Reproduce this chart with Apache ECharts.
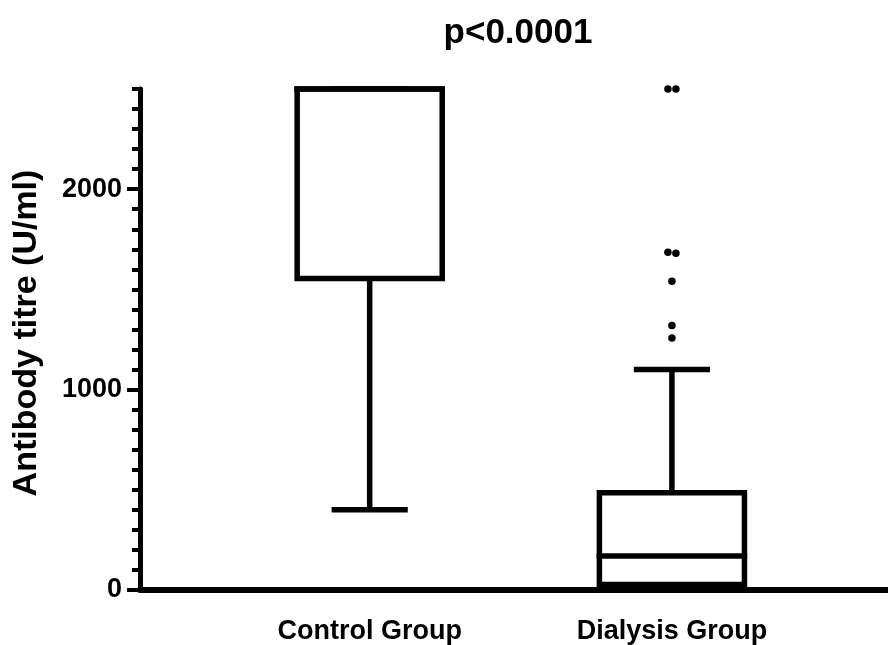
<!DOCTYPE html>
<html>
<head>
<meta charset="utf-8">
<script src="https://cdn.jsdelivr.net/npm/echarts@6/dist/echarts.min.js"></script>
<style>
html,body{margin:0;padding:0;background:#fff;}
#chart{width:888px;height:645px;}
</style>
</head>
<body>
<div id="chart"></div>
<script>
// ---- data ----
const categories = ['Control Group', 'Dialysis Group'];
const boxMin = [400, 0];
const boxQ1 = [1555, 27];
const boxMedian = [2500, 170];
const boxQ3 = [2500, 485];
const boxMax = [2500, 1100];
const dialysisOutliers = [2500, 2500, 1685, 1680, 1541, 1320, 1257];
const yMajorTicks = [0, 1000, 2000];
const titleText = 'p<0.0001';
const yAxisTitle = 'Antibody titre (U/ml)';

// ---- build ----
const FONT = '"Liberation Sans", Arial, Helvetica, sans-serif';
const boxData = categories.map((c, i) => [i + 1, boxMin[i], boxQ1[i], boxMedian[i], boxQ3[i], boxMax[i]]);

// spread near-identical outliers sideways (visual jitter only)
const outlierData = [];
for (let i = 0; i < dialysisOutliers.length; i++) {
  const v = dialysisOutliers[i];
  const prev = i > 0 ? dialysisOutliers[i - 1] : null;
  const next = i < dialysisOutliers.length - 1 ? dialysisOutliers[i + 1] : null;
  let off = 0;
  if (next !== null && Math.abs(next - v) < 15 && !(prev !== null && Math.abs(prev - v) < 15)) off = -4;
  else if (prev !== null && Math.abs(prev - v) < 15) off = 4;
  outlierData.push({ value: [2, v], symbolOffset: [off, 0] });
}

const LW = 5.5;
function renderBox(params, api) {
  const x = api.value(0);
  const vMin = api.value(1), q1 = api.value(2), med = api.value(3), q3 = api.value(4), vMax = api.value(5);
  const hw = api.size([0.24, 0])[0];
  const cw = api.size([0.126, 0])[0];
  const pMin = api.coord([x, vMin]), pQ1 = api.coord([x, q1]), pMed = api.coord([x, med]);
  const pQ3 = api.coord([x, q3]), pMax = api.coord([x, vMax]);
  const cx = pMin[0];
  const ls = { stroke: '#000', lineWidth: LW, lineCap: 'butt' };
  const children = [
    { type: 'line', shape: { x1: cx, y1: pMin[1], x2: cx, y2: pQ1[1] }, style: ls },
    { type: 'line', shape: { x1: cx, y1: pQ3[1], x2: cx, y2: pMax[1] }, style: ls },
    { type: 'line', shape: { x1: cx - cw, y1: pMin[1], x2: cx + cw, y2: pMin[1] }, style: ls },
    { type: 'line', shape: { x1: cx - cw, y1: pMax[1], x2: cx + cw, y2: pMax[1] }, style: ls },
    { type: 'rect', shape: { x: cx - hw, y: pQ3[1], width: 2 * hw, height: pQ1[1] - pQ3[1] },
      style: { fill: '#fff', stroke: '#000', lineWidth: LW } },
    { type: 'line', shape: { x1: cx - hw - LW / 2, y1: pMed[1], x2: cx + hw + LW / 2, y2: pMed[1] }, style: ls }
  ];
  return { type: 'group', children };
}

const chart = echarts.init(document.getElementById('chart'));
chart.setOption({
  animation: false,
  backgroundColor: '#fff',
  graphic: [
    { type: 'text', x: 518, y: 16, style: { text: titleText, font: 'bold 35px ' + FONT, fill: '#000', align: 'center', verticalAlign: 'top' } },
    { type: 'text', x: 27, y: 333, rotation: Math.PI / 2, style: { text: yAxisTitle, font: 'bold 34px ' + FONT, fill: '#000', align: 'center', verticalAlign: 'middle' } }
  ],
  grid: { left: 140, right: 0, top: 89, bottom: 52.5, containLabel: false },
  xAxis: {
    type: 'value', min: 0.24, max: 2.715,
    splitLine: { show: false },
    axisLine: { show: true, onZero: false, lineStyle: { color: '#000', width: 6 } },
    axisTick: { show: false },
    axisLabel: {
      customValues: [1, 2],
      margin: 28,
      formatter: v => categories[Math.round(v) - 1] || '',
      color: '#000', fontFamily: FONT, fontWeight: 'bold', fontSize: 27
    }
  },
  yAxis: [{
    type: 'value', min: 0, max: 2500, interval: 100,
    splitLine: { show: false },
    axisLine: { show: true, onZero: false, lineStyle: { color: '#000', width: 5 } },
    axisTick: { show: true, length: 8, lineStyle: { color: '#000', width: 4 } },
    axisLabel: {
      customValues: yMajorTicks,
      margin: 18,
      formatter: v => String(v),
      color: '#000', fontFamily: FONT, fontWeight: 'bold', fontSize: 27
    }
  }, {
    type: 'value', min: 0, max: 2500, interval: 1000, position: 'left',
    splitLine: { show: false },
    axisLine: { show: false },
    axisTick: { show: true, length: 13, customValues: yMajorTicks, lineStyle: { color: '#000', width: 4 } },
    axisLabel: { show: false }
  }],
  series: [{
    type: 'custom',
    renderItem: renderBox,
    data: boxData,
    encode: { x: 0, y: [1, 2, 3, 4, 5] },
    clip: false,
    z: 2
  }, {
    type: 'scatter',
    data: outlierData,
    symbol: 'circle',
    symbolSize: 7.5,
    itemStyle: { color: '#000', opacity: 1 },
    z: 3
  }]
});
</script>
</body>
</html>
